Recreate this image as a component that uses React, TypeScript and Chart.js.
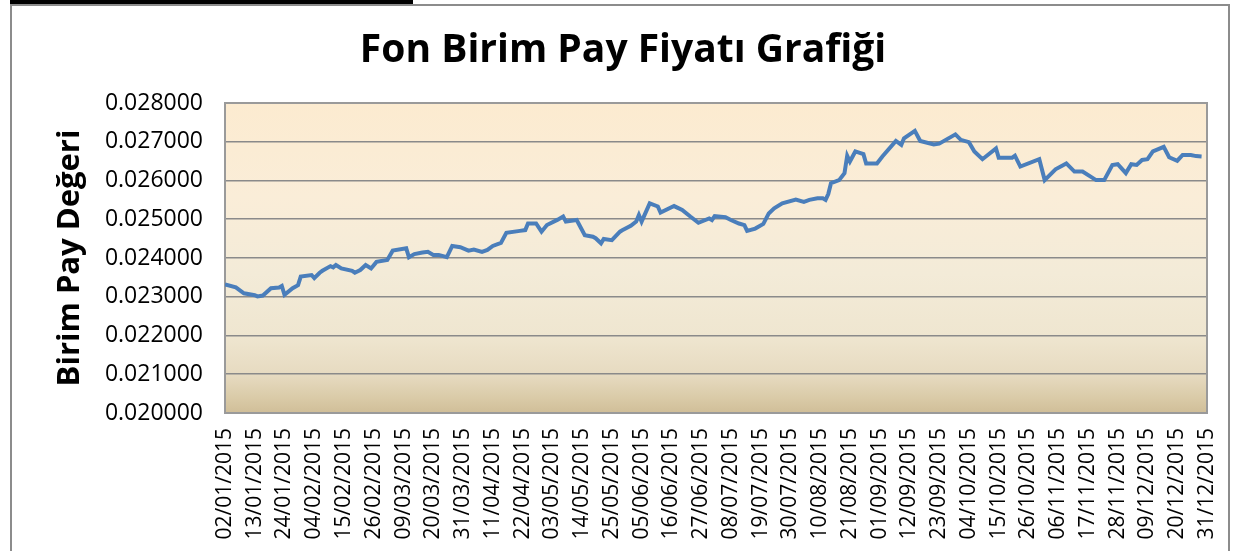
import React, { useEffect, useRef } from "react";
import { Chart, registerables } from "chart.js";

Chart.register(...registerables);

const chartTitle = "Fon Birim Pay Fiyatı Grafiği";
const yAxisTitle = "Birim Pay Değeri";

const xTickLabels = [
  "02/01/2015", "13/01/2015", "24/01/2015", "04/02/2015", "15/02/2015", "26/02/2015",
  "09/03/2015", "20/03/2015", "31/03/2015", "11/04/2015", "22/04/2015", "03/05/2015",
  "14/05/2015", "25/05/2015", "05/06/2015", "16/06/2015", "27/06/2015", "08/07/2015",
  "19/07/2015", "30/07/2015", "10/08/2015", "21/08/2015", "01/09/2015", "12/09/2015",
  "23/09/2015", "04/10/2015", "15/10/2015", "26/10/2015", "06/11/2015", "17/11/2015",
  "28/11/2015", "09/12/2015", "20/12/2015", "31/12/2015",
];

// days since 02/01/2015
const dayOffsets = [
  0, 4, 7, 11, 12, 14, 17, 20, 21, 22,
  25, 27, 28, 32, 33, 35, 36, 39, 40, 41,
  43, 47, 48, 50, 52, 54, 56, 60, 62, 67,
  68, 70, 73, 75, 77, 79, 82, 84, 87, 90,
  92, 95, 97, 99, 102, 104, 109, 111, 112, 115,
  117, 119, 123, 125, 126, 130, 133, 136, 137, 139,
  140, 143, 146, 147, 150, 152, 153, 154, 157, 160,
  161, 166, 169, 172, 175, 179, 180, 181, 185, 187,
  190, 192, 193, 196, 199, 201, 203, 206, 211, 214,
  216, 219, 221, 222, 223, 224, 227, 229, 230, 231,
  233, 236, 237, 241, 243, 248, 250, 251, 255, 257,
  262, 264, 270, 272, 275, 277, 280, 285, 286, 291,
  292, 294, 301, 303, 307, 311, 314, 317, 322, 325,
  328, 330, 333, 335, 337, 339, 341, 343, 347, 349,
  352, 354, 357, 359, 361,
];

const unitValues = [
  0.02332, 0.02324, 0.02309, 0.02304, 0.02301, 0.02303, 0.02322, 0.02324, 0.02328, 0.02305,
  0.02322, 0.0233, 0.02352, 0.02356, 0.02348, 0.02362, 0.02367, 0.02379, 0.02376, 0.02382,
  0.02373, 0.02367, 0.02362, 0.02369, 0.02382, 0.02373, 0.0239, 0.02395, 0.02419, 0.02425,
  0.02402, 0.0241, 0.02414, 0.02416, 0.02408, 0.02408, 0.02402, 0.02431, 0.02428, 0.02419,
  0.02422, 0.02416, 0.02421, 0.02431, 0.02439, 0.02465, 0.0247, 0.02472, 0.02489, 0.02489,
  0.02468, 0.02485, 0.02499, 0.02507, 0.02494, 0.02498, 0.02459, 0.02455, 0.02451, 0.02438,
  0.02449, 0.02446, 0.02468, 0.02472, 0.02483, 0.02494, 0.02511, 0.02494, 0.02541, 0.02533,
  0.02517, 0.02534, 0.02524, 0.02507, 0.02491, 0.02502, 0.02498, 0.02508, 0.02505, 0.02498,
  0.02489, 0.02485, 0.0247, 0.02476, 0.02488, 0.02515, 0.02528, 0.02541, 0.02551, 0.02545,
  0.0255, 0.02554, 0.02554, 0.0255, 0.02565, 0.02593, 0.02601, 0.02619, 0.02664, 0.02649,
  0.02675, 0.02668, 0.02644, 0.02644, 0.02662, 0.02702, 0.02692, 0.02709, 0.02728, 0.02702,
  0.02693, 0.02695, 0.02719, 0.02705, 0.02699, 0.02675, 0.02655, 0.02683, 0.02659, 0.02659,
  0.02664, 0.02636, 0.02655, 0.02601, 0.02629, 0.02644, 0.02623, 0.02623, 0.02601, 0.02601,
  0.0264, 0.02642, 0.02619, 0.02642, 0.0264, 0.02653, 0.02655, 0.02675, 0.02687, 0.0266,
  0.02651, 0.02666, 0.02666, 0.02663, 0.02662,
];

const yMin = 0.02;
const yMax = 0.028;
const yStep = 0.001;
const xStep = 11;
const xLastDay = 363;

const FONT = "'Open Sans', 'Noto Sans', sans-serif";

export default function App() {
  const ref = useRef<HTMLCanvasElement>(null);

  useEffect(() => {
    if (!ref.current) return;
    const plotBg = {
      id: "plotBg",
      beforeDraw(chart: any) {
        const { ctx, chartArea: a } = chart;
        const g = ctx.createLinearGradient(0, a.top, 0, a.bottom);
        g.addColorStop(0, "#FCEBD0");
        g.addColorStop(0.3, "#FAEDD8");
        g.addColorStop(0.55, "#F3EBD8");
        g.addColorStop(0.75, "#EFE6D0");
        g.addColorStop(0.88, "#E6DAC0");
        g.addColorStop(0.95, "#DACBA8");
        g.addColorStop(1, "#D0BE98");
        ctx.save();
        ctx.fillStyle = g;
        ctx.fillRect(a.left, a.top, a.right - a.left, a.bottom - a.top);
        ctx.restore();
      },
      beforeDatasetsDraw(chart: any) {
        const { ctx, chartArea: a } = chart;
        ctx.save();
        ctx.strokeStyle = "#9a9a9a";
        ctx.lineWidth = 2;
        ctx.strokeRect(a.left, a.top, a.right - a.left, a.bottom - a.top);
        ctx.restore();
      },
    };

    const chart = new Chart(ref.current, {
      type: "line",
      data: {
        datasets: [
          {
            data: dayOffsets.map((d, i) => ({ x: d, y: unitValues[i] })),
            borderColor: "#4A7EBB",
            borderWidth: 4,
            pointRadius: 0,
            tension: 0,
            fill: false,
          },
        ],
      },
      options: {
        animation: false,
        responsive: false,
        maintainAspectRatio: false,
        layout: { padding: { left: 39, right: 30, top: 0, bottom: 0 } },
        plugins: {
          legend: { display: false },
          tooltip: { enabled: false },
          title: {
            display: true,
            text: chartTitle,
            color: "#000",
            font: { family: FONT, size: 39, weight: "bold" },
            padding: { top: 27, bottom: 29.2 },
          },
        },
        scales: {
          x: {
            type: "linear",
            min: 0,
            max: xLastDay,
            grid: { display: false, drawTicks: false },
            border: { display: true, color: "#9a9a9a", width: 2 },
            ticks: {
              stepSize: xStep,
              autoSkip: false,
              minRotation: 90,
              maxRotation: 90,
              padding: 15,
              color: "#000",
              font: { family: FONT, size: 21 },
              callback: (v: any) => xTickLabels[Math.round(Number(v) / xStep)] ?? "",
            },
            afterFit: (s: any) => {
              s.height = 138;
              s.paddingLeft = 0;
              s.paddingRight = 0;
            },
          },
          y: {
            min: yMin,
            max: yMax,
            grid: { color: "#8a8a8a", lineWidth: 1.5, drawTicks: false },
            border: { display: true, color: "#9a9a9a", width: 2 },
            ticks: {
              stepSize: yStep,
              padding: 22,
              color: "#000",
              font: { family: FONT, size: 23 },
              callback: (v: any) => Number(v).toFixed(6),
            },
            title: {
              display: true,
              text: yAxisTitle,
              color: "#000",
              font: { family: FONT, size: 31, weight: "bold" },
              padding: { top: 13, bottom: 0 },
            },
            afterFit: (s: any) => {
              s.width = 225 - 39;
            },
          },
        },
      },
      plugins: [plotBg],
    } as any);
    return () => chart.destroy();
  }, []);

  return (
    <div
      style={{
        position: "fixed",
        left: 0,
        top: 0,
        width: 1237,
        height: 551,
        background: "#fff",
        overflow: "hidden",
      }}
    >
      <div style={{ position: "absolute", left: 10, top: 0, width: 403, height: 4, background: "#000" }} />
      <div
        style={{
          position: "absolute",
          left: 10,
          top: 4,
          width: 1220,
          height: 620,
          border: "2px solid #8c8c8c",
          boxSizing: "border-box",
        }}
      />
      <canvas
        ref={ref}
        width={1237}
        height={551}
        style={{ position: "absolute", left: 0, top: 0, width: 1237, height: 551 }}
      />
    </div>
  );
}
